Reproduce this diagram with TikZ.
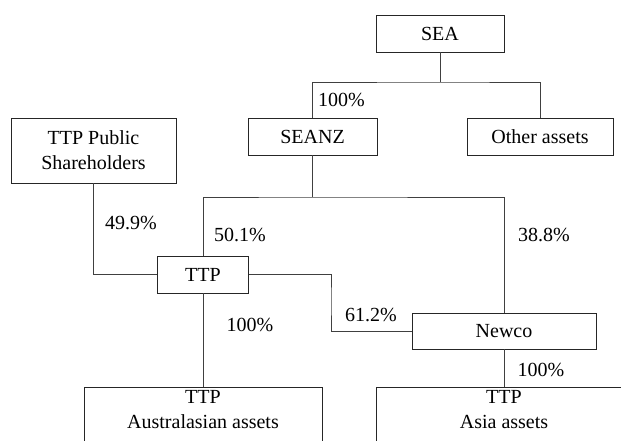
\documentclass[tikz,border=0pt]{standalone}
\usepackage{fontspec}
\setmainfont{Liberation Serif}
\usetikzlibrary{positioning}

\tikzset{
  entity/.style={draw=black!85, line width=0.9pt, inner sep=0pt, align=center},
  link/.style={draw=black!75, line width=0.9pt},
  pct/.style={inner sep=0pt}
}

\begin{document}
\begin{tikzpicture}[x=1pt,y=-1pt,font=\fontsize{20}{25}\selectfont]
                    \path[use as bounding box] (0,0) rectangle (621,441);
                    \clip (0,0) rectangle (621,441);

                    % ownership entities
                    \node[entity,minimum width=128,minimum height=37] (sea) at (440,33.5) {SEA};
                    \node[entity,minimum width=129,minimum height=37] (seanz) at (312.5,136.5) {SEANZ};
                    \node[entity,minimum width=146,minimum height=37] (other) at (540,136.5) {Other assets};
                    \node[entity,minimum width=165,minimum height=65] (pub) at (93.5,150.5) {TTP Public\\Shareholders};
                    \node[entity,minimum width=91,minimum height=37] (ttp) at (203,274.5) {TTP};
                    \node[entity,minimum width=184,minimum height=36] (newco) at (504,331) {Newco};
                    \node[entity,minimum width=238,anchor=north,inner ysep=3pt,text depth=40pt] (aus) at (203,387) {TTP\\Australasian assets};
                    \node[entity,minimum width=256,anchor=north,inner ysep=3pt,text depth=40pt] (asia) at (504,387) {TTP\\Asia assets};

                    % branch points
                    \coordinate (split) at (440,82);
                    \coordinate (fork) at (312.5,197);
                    \coordinate (jog) at (331,300);

                    \draw[link] (sea) -- (split);
                    \draw[link] (seanz) |- (split) -| (other);
                    \draw[link] (seanz) -- (fork);
                    \draw[link] (ttp) |- (fork) -| (newco);
                    \draw[link] (pub) |- (ttp);
                    \draw[link] (ttp) -| (jog) |- (newco);
                    \draw[link] (ttp) -- (aus);
                    \draw[link] (newco) -- (asia);

                    % percentages
                    \node[pct] (p1) at (341.5,100) {100\%};
                    \node[pct] (p2) at (131,223) {49.9\%};
                    \node[pct] (p3) at (240,235) {50.1\%};
                    \node[pct] (p4) at (544,235) {38.8\%};
                    \node[pct] (p5) at (250,325) {100\%};
                    \node[pct] (p6) at (371,315) {61.2\%};
                    \node[pct] (p7) at (541,370) {100\%};
                \end{tikzpicture}
\end{document}
